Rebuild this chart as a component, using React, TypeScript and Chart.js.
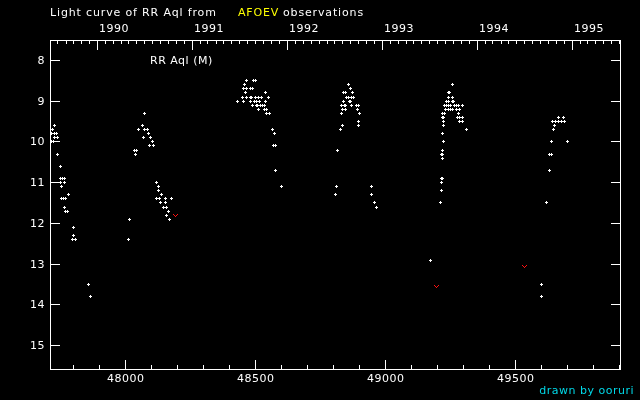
import React, { useEffect, useRef } from 'react';
import { Chart, registerables } from 'chart.js';

Chart.register(...registerables);

// Visual estimates of RR Aql, [JD - 2400000, magnitude]
const season1989: [number, number][] = [
  [47725, 9.6], [47718, 9.7], [47713, 9.8], [47725, 9.8], [47733, 9.8],
  [47725, 9.9], [47737, 9.9], [47715, 10.0], [47723, 10.0], [47737, 10.3],
  [47749, 10.6], [47749, 10.9], [47756, 10.9], [47764, 10.9], [47749, 11.0],
  [47765, 11.0], [47755, 11.1], [47779, 11.3], [47752, 11.4], [47760, 11.4],
  [47768, 11.4], [47764, 11.6], [47769, 11.7], [47778, 11.7], [47798, 12.1],
  [47798, 12.3], [47795, 12.4], [47806, 12.4], [47856, 13.5], [47864, 13.8],
];

const season1990: [number, number][] = [
  [48010, 12.4], [48014, 11.9], [48033, 10.2], [48041, 10.2], [48037, 10.3],
  [48072, 9.3], [48064, 9.6], [48048, 9.7], [48072, 9.7], [48083, 9.7],
  [48087, 9.8], [48068, 9.9], [48095, 9.9], [48102, 10.0], [48091, 10.1],
  [48106, 10.1], [48118, 11.0], [48125, 11.1], [48127, 11.2], [48137, 11.3],
  [48118, 11.4], [48129, 11.4], [48152, 11.4], [48175, 11.4], [48133, 11.5],
  [48152, 11.5], [48145, 11.6], [48156, 11.6], [48164, 11.7], [48156, 11.8],
  [48168, 11.9],
];

const season1991: [number, number][] = [
  [48464, 8.5], [48491, 8.5], [48498, 8.5], [48456, 8.6],
  [48452, 8.7], [48464, 8.7], [48479, 8.7], [48487, 8.7],
  [48460, 8.8], [48537, 8.8],
  [48448, 8.9], [48464, 8.9], [48479, 8.9], [48483, 8.9], [48498, 8.9], [48510, 8.9], [48521, 8.9], [48548, 8.9],
  [48429, 9.0], [48452, 9.0], [48479, 9.0], [48495, 9.0], [48502, 9.0], [48514, 9.0], [48537, 9.0],
  [48487, 9.1], [48502, 9.1], [48506, 9.1], [48518, 9.1], [48525, 9.1], [48533, 9.1],
  [48510, 9.2], [48533, 9.2], [48541, 9.2], [48541, 9.3], [48552, 9.3],
  [48564, 9.7], [48571, 9.8], [48568, 10.1], [48575, 10.1], [48575, 10.7], [48598, 11.1],
];

const season1992: [number, number][] = [
  [48856, 8.6], [48864, 8.7], [48837, 8.8], [48845, 8.8], [48872, 8.8],
  [48849, 8.9], [48856, 8.9], [48868, 8.9], [48875, 8.9],
  [48837, 9.0], [48860, 9.0], [48864, 9.0],
  [48829, 9.1], [48841, 9.1], [48845, 9.1], [48868, 9.1], [48887, 9.1], [48895, 9.1],
  [48833, 9.2], [48845, 9.2], [48891, 9.2], [48829, 9.3], [48898, 9.3],
  [48895, 9.5], [48833, 9.6], [48895, 9.6], [48825, 9.7], [48814, 10.2],
  [48810, 11.1], [48806, 11.3], [48945, 11.1], [48945, 11.3], [48956, 11.5], [48964, 11.6],
];

const season1993: [number, number][] = [
  [49172, 12.9], [49210, 11.5], [49214, 11.2], [49214, 11.0], [49214, 10.9], [49218, 10.9],
  [49218, 10.4], [49214, 10.3], [49218, 10.3], [49218, 10.2], [49222, 10.0], [49218, 9.8],
  [49222, 9.6], [49222, 9.5], [49283, 9.5], [49295, 9.5],
  [49218, 9.4], [49222, 9.4], [49275, 9.4], [49283, 9.4], [49295, 9.4],
  [49218, 9.3], [49225, 9.3], [49279, 9.3],
  [49229, 9.2], [49241, 9.2], [49248, 9.2], [49256, 9.2], [49272, 9.2], [49283, 9.2],
  [49225, 9.1], [49233, 9.1], [49241, 9.1], [49248, 9.1], [49264, 9.1], [49272, 9.1], [49279, 9.1], [49295, 9.1],
  [49233, 9.0], [49241, 9.0], [49256, 9.0], [49260, 9.0],
  [49241, 8.9], [49256, 8.9], [49241, 8.8], [49245, 8.8], [49256, 8.6], [49310, 9.7],
];

const season1994: [number, number][] = [
  [49598, 13.8], [49598, 13.5], [49618, 11.5], [49629, 10.7], [49629, 10.3], [49637, 10.3],
  [49638, 10.0], [49698, 10.0], [49645, 9.7], [49648, 9.6],
  [49641, 9.5], [49652, 9.5], [49664, 9.5], [49675, 9.5], [49687, 9.5],
  [49663, 9.4], [49683, 9.4],
];

// "fainter than" estimates (red)
const fainterThan: [number, number][] = [
  [48191, 11.8], [49195, 13.55], [49533, 13.05],
];

const bottomTickValues = [48000, 48500, 49000, 49500];
const bottomTickLabels = ['48000', '48500', '49000', '49500'];
const yearLabels = ['1990', '1991', '1992', '1993', '1994', '1995'];
const yearStarts = [47892.5, 48257.5, 48622.5, 48988.5, 49353.5, 49718.5];
const magTicks = [8, 9, 10, 11, 12, 13, 14, 15];
const magLabels = ['8', '9', '10', '11', '12', '13', '14', '15'];

const X_MIN = 47708.9;
const X_MAX = 49905;
const Y_MIN = 7.5;
const Y_MAX = 15.6;

const FONT = '11px "DejaVu Sans"';

function makeCross(): HTMLCanvasElement {
  const c = document.createElement('canvas');
  c.width = 3; c.height = 3;
  const g = c.getContext('2d')!;
  g.fillStyle = '#ffffff';
  g.fillRect(1, 0, 1, 3);
  g.fillRect(0, 1, 3, 1);
  return c;
}

function makeVee(): HTMLCanvasElement {
  const c = document.createElement('canvas');
  c.width = 5; c.height = 3;
  const g = c.getContext('2d')!;
  g.fillStyle = '#ff1010';
  g.fillRect(0, 0, 1, 1); g.fillRect(4, 0, 1, 1);
  g.fillRect(1, 1, 1, 1); g.fillRect(3, 1, 1, 1);
  g.fillRect(2, 2, 1, 1);
  return c;
}

function monthStarts(): { v: number; major: boolean }[] {
  const out: { v: number; major: boolean }[] = [];
  for (let y = 1989; y <= 1995; y++) {
    for (let m = 0; m < 12; m++) {
      const v = Date.UTC(y, m, 1) / 86400000 + 40587.5;
      if (v >= X_MIN && v <= X_MAX) out.push({ v, major: m === 0 });
    }
  }
  return out;
}

const decorPlugin = {
  id: 'decor',
  beforeDraw(chart: any) {
    const ctx = chart.ctx;
    ctx.save();
    ctx.fillStyle = '#000';
    ctx.fillRect(0, 0, chart.width, chart.height);
    ctx.restore();
  },
  beforeDatasetsDraw(chart: any) {
    chart.ctx.imageSmoothingEnabled = false;
  },
  afterDatasetsDraw(chart: any) {
    const { ctx, chartArea: a, scales } = chart;
    const xs = scales.x;
    const ys = scales.y;
    ctx.save();
    ctx.strokeStyle = '#ffffff';
    ctx.lineWidth = 1;
    const L = a.left + 0.5, R = a.right - 0.5, T = a.top + 0.5, B = a.bottom - 0.5;
    ctx.strokeRect(L, T, R - L, B - T);

    ctx.beginPath();
    for (const m of magTicks) {
      const py = Math.floor(ys.getPixelForValue(m)) + 0.5;
      ctx.moveTo(a.left, py); ctx.lineTo(a.left + 10, py);
      ctx.moveTo(a.right - 10, py); ctx.lineTo(a.right, py);
    }
    for (let v = 47800; v <= X_MAX; v += 100) {
      const px = Math.floor(xs.getPixelForValue(v)) + 0.5;
      const len = v % 500 === 0 ? 10 : 5;
      ctx.moveTo(px, a.bottom); ctx.lineTo(px, a.bottom - len);
    }
    for (const t of monthStarts()) {
      const px = Math.floor(xs.getPixelForValue(t.v)) + 0.5;
      const len = t.major ? 10 : 4;
      ctx.moveTo(px, a.top); ctx.lineTo(px, a.top + len);
    }
    ctx.stroke();

    ctx.font = FONT;
    (ctx as any).letterSpacing = '0.5px';
    ctx.textBaseline = 'alphabetic';
    ctx.fillStyle = '#ffffff';

    ctx.textAlign = 'right';
    magTicks.forEach((m, i) => {
      const py = Math.floor(ys.getPixelForValue(m));
      ctx.fillText(magLabels[i], a.left - 5, py + 4);
    });

    ctx.textAlign = 'center';
    bottomTickValues.forEach((v, i) => {
      ctx.fillText(bottomTickLabels[i], xs.getPixelForValue(v), a.bottom + 12);
    });

    ctx.textAlign = 'left';
    yearStarts.forEach((v, i) => {
      ctx.fillText(yearLabels[i], Math.floor(xs.getPixelForValue(v)) + 2, 32);
    });

    (ctx as any).letterSpacing = '0.85px';
    ctx.fillText('Light curve of RR Aql from', 50, 16);
    ctx.fillStyle = '#ffff00';
    ctx.fillText('AFOEV', 238, 16);
    ctx.fillStyle = '#ffffff';
    ctx.fillText('observations', 283, 16);
    (ctx as any).letterSpacing = '0.5px';
    ctx.fillText('RR Aql (M)', 150, 64);

    ctx.textAlign = 'right';
    ctx.fillStyle = '#00d8e8';
    ctx.fillText('drawn by ooruri', 634, 394);
    ctx.restore();
  },
};

export default function App() {
  const ref = useRef<HTMLCanvasElement | null>(null);
  useEffect(() => {
    if (!ref.current) return;
    const cross = makeCross();
    const vee = makeVee();
    const toXY = (arr: [number, number][]) => arr.map(([x, y]) => ({ x, y }));
    const visual = [
      ...season1989, ...season1990, ...season1991, ...season1992, ...season1993, ...season1994,
    ];
    const chart = new Chart(ref.current, {
      type: 'scatter',
      data: {
        datasets: [
          {
            label: 'visual',
            data: toXY(visual),
            pointStyle: cross as any,
            pointRadius: 3,
            showLine: false,
          },
          {
            label: 'fainter than',
            data: toXY(fainterThan),
            pointStyle: vee as any,
            pointRadius: 3,
            showLine: false,
          },
        ],
      },
      options: {
        responsive: false,
        animation: false,
        devicePixelRatio: 1,
        layout: { padding: { left: 50, right: 19, top: 40, bottom: 30 } },
        plugins: { legend: { display: false }, tooltip: { enabled: false }, title: { display: false } },
        events: [],
        scales: {
          x: { type: 'linear', display: false, min: X_MIN, max: X_MAX },
          y: { type: 'linear', display: false, min: Y_MIN, max: Y_MAX, reverse: true },
        },
      },
      plugins: [decorPlugin],
    });
    return () => chart.destroy();
  }, []);
  return (
    <div style={{ position: 'fixed', left: 0, top: 0, width: 640, height: 400, background: '#000' }}>
      <canvas ref={ref} width={640} height={400} style={{ display: 'block' }} />
    </div>
  );
}
